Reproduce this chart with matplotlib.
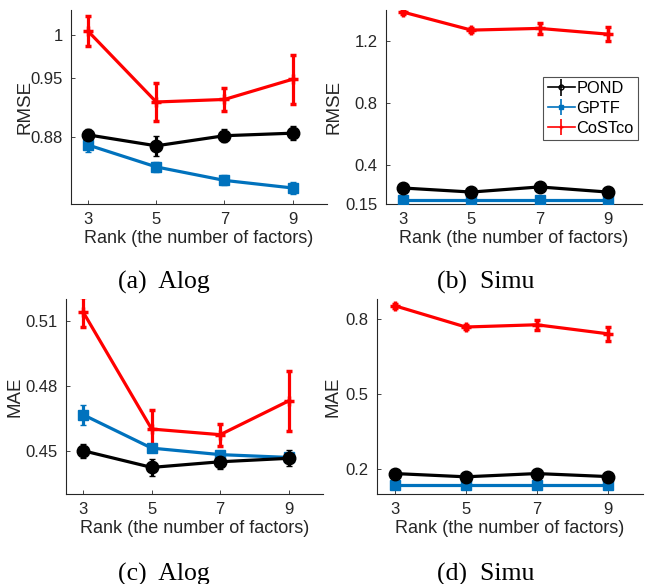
import numpy as np
import matplotlib
matplotlib.use("Agg")
import matplotlib.pyplot as plt

ranks = [3, 5, 7, 9]
methods = ["POND", "GPTF", "CoSTco"]

# (a) Alog RMSE
alog_rmse = {
    "POND": [0.882, 0.869, 0.881, 0.884],
    "GPTF": [0.870, 0.844, 0.828, 0.819],
    "CoSTco": [1.005, 0.921, 0.924, 0.948],
}
alog_rmse_err = {
    "POND": [0.007, 0.012, 0.008, 0.008],
    "GPTF": [0.008, 0.006, 0.006, 0.007],
    "CoSTco": [0.018, 0.023, 0.014, 0.029],
}

# (b) Simu RMSE
simu_rmse = {
    "POND": [0.253, 0.227, 0.260, 0.227],
    "GPTF": [0.176, 0.176, 0.176, 0.176],
    "CoSTco": [1.387, 1.271, 1.282, 1.245],
}
simu_rmse_err = {
    "POND": [0.008, 0.006, 0.008, 0.006],
    "GPTF": [0.003, 0.003, 0.003, 0.003],
    "CoSTco": [0.012, 0.015, 0.035, 0.045],
}

# (c) Alog MAE
alog_mae = {
    "POND": [0.4500, 0.4423, 0.4449, 0.4465],
    "GPTF": [0.4666, 0.4512, 0.4482, 0.4469],
    "CoSTco": [0.5140, 0.4600, 0.4574, 0.4730],
}
alog_mae_err = {
    "POND": [0.0032, 0.0041, 0.0032, 0.0037],
    "GPTF": [0.0046, 0.0018, 0.0014, 0.0018],
    "CoSTco": [0.0070, 0.0090, 0.0050, 0.0138],
}

# (d) Simu MAE
simu_mae = {
    "POND": [0.182, 0.169, 0.182, 0.170],
    "GPTF": [0.138, 0.138, 0.138, 0.138],
    "CoSTco": [0.853, 0.768, 0.777, 0.741],
}
simu_mae_err = {
    "POND": [0.006, 0.005, 0.006, 0.005],
    "GPTF": [0.003, 0.003, 0.003, 0.003],
    "CoSTco": [0.008, 0.008, 0.020, 0.028],
}

colors = {"POND": "black", "GPTF": "#0072BD", "CoSTco": "#FF0000"}
markers = {"POND": "o", "GPTF": "s", "CoSTco": "+"}
msizes = {"POND": 9, "GPTF": 7.5, "CoSTco": 7}

axis_col = "#262626"
plt.rcParams["font.family"] = ["Liberation Sans", "DejaVu Sans"]

fig = plt.figure(figsize=(6.49, 5.84), dpi=100)

panels = [
    # data, err, ylabel, ylim, yticks, yticklabels, rect, caption, caption xy
    (alog_rmse, alog_rmse_err, "RMSE", (0.80, 1.03), [0.88, 0.95, 1.0], ["0.88", "0.95", "1"],
     [0.1094, 0.6507, 0.394, 0.332], "(a)  Alog", (164, 282)),
    (simu_rmse, simu_rmse_err, "RMSE", (0.15, 1.40), [0.15, 0.4, 0.8, 1.2], ["0.15", "0.4", "0.8", "1.2"],
     [0.595, 0.6507, 0.394, 0.332], "(b)  Simu", (486, 282)),
    (alog_mae, alog_mae_err, "MAE", (0.43, 0.52), [0.45, 0.48, 0.51], ["0.45", "0.48", "0.51"],
     [0.1017, 0.154, 0.396, 0.334], "(c)  Alog", (164, 574)),
    (simu_mae, simu_mae_err, "MAE", (0.10, 0.88), [0.2, 0.5, 0.8], ["0.2", "0.5", "0.8"],
     [0.581, 0.154, 0.41, 0.334], "(d)  Simu", (486, 574)),
]

label_x = [-0.148, -0.172, -0.167, -0.132]

for i, (vals, errs, ylab, ylim, yt, ytl, rect, cap, capxy) in enumerate(panels):
    ax = fig.add_axes(rect)
    for m in ["CoSTco", "GPTF", "POND"]:
        ax.errorbar(ranks, vals[m], yerr=errs[m], color=colors[m], lw=2.3,
                    marker=markers[m], ms=msizes[m], mew=2.5 if m == "CoSTco" else 1,
                    mfc=colors[m], mec=colors[m], elinewidth=2.3, capsize=2.5,
                    capthick=2.3, zorder=3)
    ax.set_xlim(2.5, 10)
    ax.set_ylim(*ylim)
    ax.set_xticks(ranks)
    ax.set_yticks(yt)
    ax.set_yticklabels(ytl)
    ax.spines["top"].set_visible(False)
    ax.spines["right"].set_visible(False)
    for s in ["left", "bottom"]:
        ax.spines[s].set_color(axis_col)
        ax.spines[s].set_linewidth(0.8)
    ax.tick_params(direction="in", length=3, width=0.6, colors=axis_col,
                   labelsize=12, pad=6)
    ax.set_xlabel("Rank (the number of factors)", fontsize=13, color=axis_col, labelpad=2)
    ax.set_ylabel(ylab, fontsize=13.5, color=axis_col)
    ax.yaxis.set_label_coords(label_x[i], 0.5)
    fig.text(capxy[0] / 649, 1 - capxy[1] / 584, cap, ha="center", va="center",
             fontsize=18.5, family=["Liberation Serif", "DejaVu Serif"])

    if i == 1:
        handles = []
        for m in methods:
            h = ax.errorbar([], [], yerr=[], color=colors[m], lw=1.2, marker=markers[m],
                            ms=3.5, mfc="none" if m == "POND" else colors[m],
                            mec=colors[m], capsize=2.5, elinewidth=1.2)
            handles.append(h)
        leg = ax.legend(handles, methods, loc="upper left",
                        bbox_to_anchor=(0.615, 0.655),
                        fontsize=11.8, frameon=True, fancybox=False,
                        handlelength=1.65, handletextpad=0.1, borderpad=0.25,
                        labelspacing=0.3, borderaxespad=0)
        leg.get_frame().set_edgecolor(axis_col)
        leg.get_frame().set_linewidth(0.8)

fig.savefig("out.png", dpi=100)
